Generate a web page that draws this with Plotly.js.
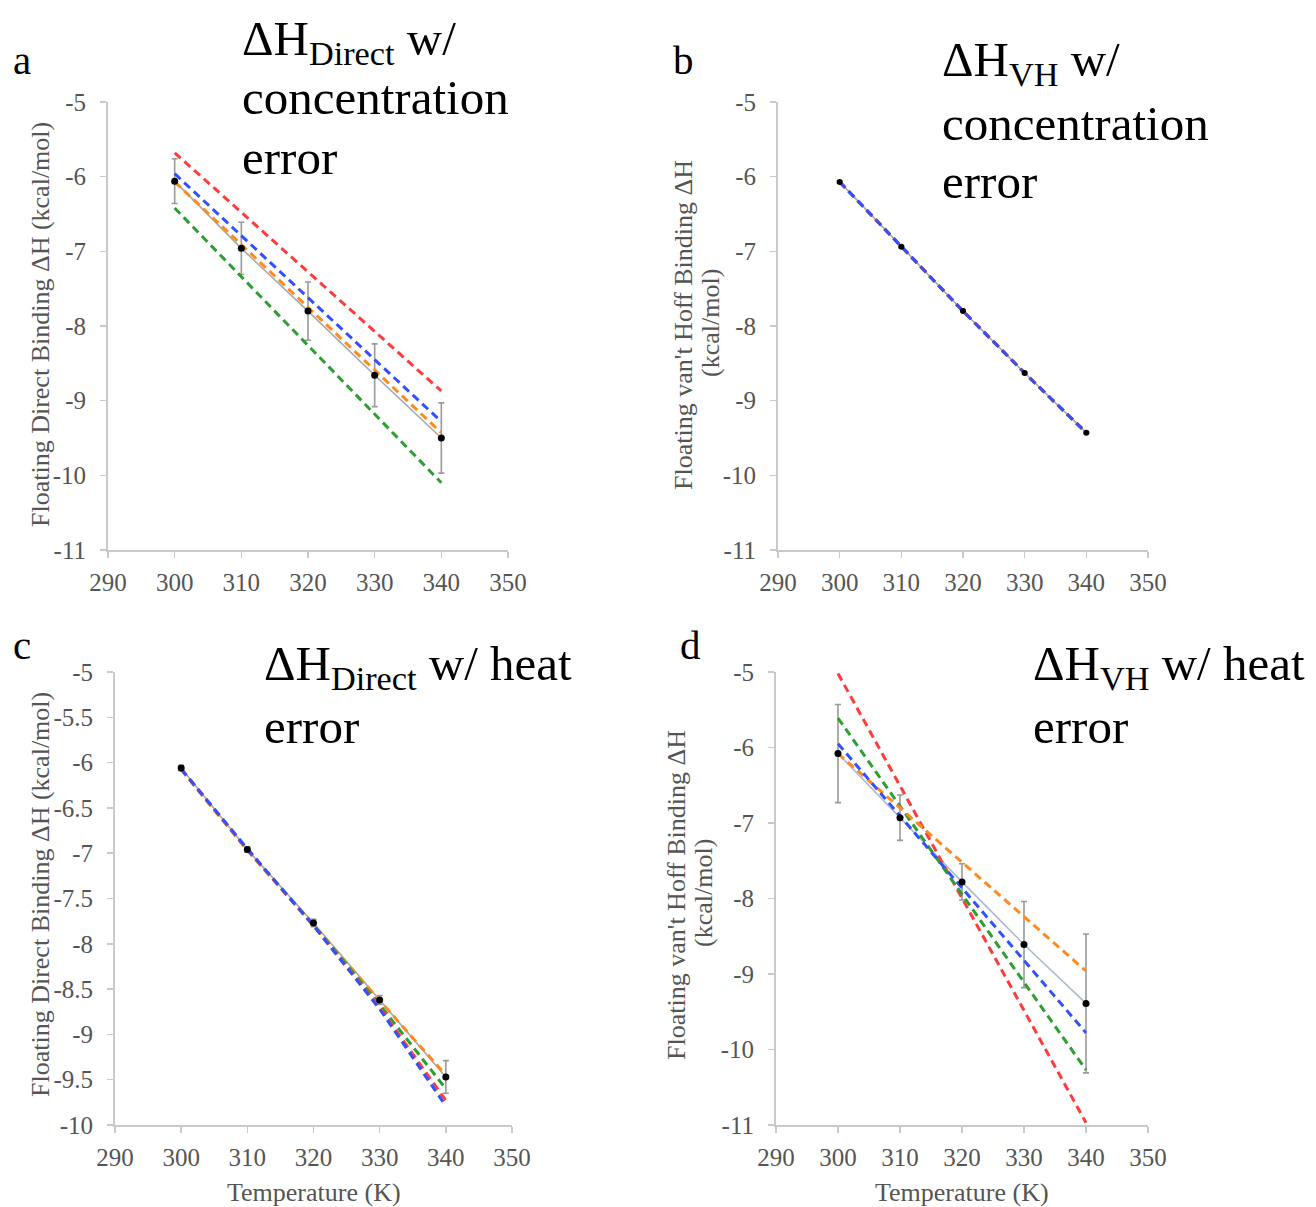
<!DOCTYPE html>
<html>
<head>
<meta charset="utf-8">
<script src="https://cdn.plot.ly/plotly-3.0.1.min.js"></script>
<style>html,body{margin:0;padding:0;background:#fff;}#chart{width:1316px;height:1207px;}</style>
</head>
<body>
<div id="chart"></div>
<script>
// ---------- data ----------
const temps = [300, 310, 320, 330, 340];
const xTickVals = [290, 300, 310, 320, 330, 340, 350];
const xTickText = ['290', '300', '310', '320', '330', '340', '350'];
const yTickVals11 = [-11, -10, -9, -8, -7, -6, -5];
const yTickText11 = ['-11', '-10', '-9', '-8', '-7', '-6', '-5'];
const yTickValsC = [-10, -9.5, -9, -8.5, -8, -7.5, -7, -6.5, -6, -5.5, -5];
const yTickTextC = ['-10', '-9.5', '-9', '-8.5', '-8', '-7.5', '-7', '-6.5', '-6', '-5.5', '-5'];

// panel a : direct dH with concentration error
const aData = [-6.06, -6.96, -7.80, -8.66, -9.50];
const aErr = [0.30, 0.35, 0.39, 0.42, 0.47];
const aRed = [-5.68, -6.48, -7.28, -8.07, -8.87];
const aBlue = [-5.96, -6.79, -7.62, -8.45, -9.28];
const aOrange = [-6.07, -6.91, -7.75, -8.59, -9.43];
const aGreen = [-6.42, -7.34, -8.26, -9.18, -10.10];

// panel b : van't Hoff dH with concentration error
const bData = [-6.07, -6.94, -7.80, -8.63, -9.43];
const bErr = [0.01, 0.01, 0.01, 0.01, 0.01];
const bRed = [-6.07, -6.94, -7.80, -8.63, -9.43];
const bBlue = [-6.07, -6.94, -7.80, -8.63, -9.43];
const bOrange = [-6.07, -6.94, -7.80, -8.63, -9.43];
const bGreen = [-6.07, -6.94, -7.80, -8.63, -9.43];

// panel c : direct dH with heat error
const cData = [-6.06, -6.96, -7.77, -8.62, -9.47];
const cErr = [0.03, 0.03, 0.04, 0.05, 0.18];
const cRed = [-6.07, -6.96, -7.80, -8.70, -9.73];
const cBlue = [-6.07, -6.95, -7.80, -8.72, -9.79];
const cOrange = [-6.08, -6.97, -7.80, -8.62, -9.45];
const cGreen = [-6.07, -6.96, -7.79, -8.67, -9.60];

// panel d : van't Hoff dH with heat error
const dData = [-6.08, -6.93, -7.78, -8.61, -9.39];
const dErr = [0.65, 0.30, 0.24, 0.57, 0.92];
const dRed = [-5.02, -6.51, -8.00, -9.48, -10.97];
const dBlue = [-5.95, -6.90, -7.86, -8.82, -9.78];
const dOrange = [-6.08, -6.80, -7.52, -8.24, -8.96];
const dGreen = [-5.61, -6.78, -7.94, -9.11, -10.27];

// ---------- styling ----------
const W = 1316, H = 1207;
const px = v => v / W;
const py = v => 1 - v / H;
const SERIF = 'Liberation Serif';
const RED = '#ff3b3b', BLUE = '#3350ff', ORANGE = '#ff8a1e', GREEN = '#2e9e33';
const DASH = '8px,5px';

function dashed(y, color, xa, ya) {
  return {x: temps, y: y, xaxis: xa, yaxis: ya, mode: 'lines', type: 'scatter',
    line: {color: color, width: 3, dash: DASH}, hoverinfo: 'skip'};
}
function dataLine(y, err, lineColor, xa, ya) {
  return {x: temps, y: y, xaxis: xa, yaxis: ya, mode: 'lines', type: 'scatter',
    line: {color: lineColor, width: 1.6},
    error_y: {type: 'data', array: err, visible: true, color: '#9a9a9a', thickness: 1.6, width: 3},
    hoverinfo: 'skip'};
}
function markers(y, size, xa, ya) {
  return {x: temps, y: y, xaxis: xa, yaxis: ya, mode: 'markers', type: 'scatter',
    marker: {color: '#000', size: size}, hoverinfo: 'skip', cliponaxis: false};
}

const traces = [
  dataLine(aData, aErr, '#a8a8a8', 'x', 'y'),
  dashed(aGreen, GREEN, 'x', 'y'), dashed(aRed, RED, 'x', 'y'),
  dashed(aOrange, ORANGE, 'x', 'y'), dashed(aBlue, BLUE, 'x', 'y'),
  markers(aData, 7, 'x', 'y'),

  dataLine(bData, bErr, '#a8a8a8', 'x2', 'y2'),
  dashed(bOrange, ORANGE, 'x2', 'y2'), dashed(bGreen, GREEN, 'x2', 'y2'),
  dashed(bRed, RED, 'x2', 'y2'), dashed(bBlue, BLUE, 'x2', 'y2'),
  markers(bData, 6, 'x2', 'y2'),

  dataLine(cData, cErr, '#a8a8a8', 'x3', 'y3'),
  dashed(cOrange, ORANGE, 'x3', 'y3'), dashed(cGreen, GREEN, 'x3', 'y3'),
  dashed(cRed, RED, 'x3', 'y3'), dashed(cBlue, BLUE, 'x3', 'y3'),
  markers(cData, 7, 'x3', 'y3'),

  dataLine(dData, dErr, '#a9bccf', 'x4', 'y4'),
  dashed(dRed, RED, 'x4', 'y4'), dashed(dGreen, GREEN, 'x4', 'y4'),
  dashed(dOrange, ORANGE, 'x4', 'y4'), dashed(dBlue, BLUE, 'x4', 'y4'),
  markers(dData, 7, 'x4', 'y4')
];

function xAxis(d0, d1, anchor) {
  return {domain: [px(d0), px(d1)], range: [290, 350], anchor: anchor,
    tickvals: xTickVals, ticktext: xTickText,
    showline: true, linecolor: '#c9c9c9', linewidth: 2, ticks: 'outside', ticklen: 6,
    tickcolor: '#c9c9c9', tickwidth: 1.5, showgrid: false, zeroline: false, fixedrange: true,
    ticklabelstandoff: 3,
    tickfont: {family: SERIF, size: 25, color: '#555'}};
}
function yAxis(d0, d1, range, vals, text, anchor) {
  return {domain: [py(d1), py(d0)], range: range, anchor: anchor,
    tickvals: vals, ticktext: text,
    showline: true, linecolor: '#c9c9c9', linewidth: 2, ticks: 'outside', ticklen: 6,
    tickcolor: '#c9c9c9', tickwidth: 1.5, showgrid: false, zeroline: false, fixedrange: true,
    ticklabelstandoff: 9,
    tickfont: {family: SERIF, size: 25, color: '#555'}};
}

function txt(text, x, y, size, opts) {
  return Object.assign({text: text, x: px(x), y: py(y), xref: 'paper', yref: 'paper',
    showarrow: false, xanchor: 'left', yanchor: 'middle',
    font: {family: SERIF, size: size, color: '#000'}}, opts || {});
}
function axTitle(text, x, y, angle) {
  return txt(text, x, y, 26, {xanchor: 'center', textangle: angle,
    font: {family: SERIF, size: 26, color: '#555'}});
}
const TS = 49;
const annotations = [
  // panel letters
  txt('a', 11, 60, 41), txt('b', 671, 60, 41), txt('c', 11, 645, 41), txt('d', 678, 645, 41),
  // titles
  txt('ΔH<sub>Direct</sub> w/', 240, 41, TS),
  txt('concentration', 240, 97, TS),
  txt('error', 240, 157, TS),
  txt('ΔH<sub>VH</sub> w/', 940, 63, TS),
  txt('concentration', 940, 123, TS),
  txt('error', 940, 181, TS),
  txt('ΔH<sub>Direct</sub> w/ heat', 262, 666, TS),
  txt('error', 262, 726, TS),
  txt('ΔH<sub>VH</sub> w/ heat', 1031, 666, TS),
  txt('error', 1031, 726, TS),
  // axis titles
  axTitle('Floating Direct Binding ΔH (kcal/mol)', 40, 325, -90),
  axTitle("Floating van't Hoff Binding ΔH", 683, 325, -90),
  axTitle('(kcal/mol)', 710, 323, -90),
  axTitle('Floating Direct Binding ΔH (kcal/mol)', 40, 895, -90),
  axTitle("Floating van't Hoff Binding ΔH", 676, 895, -90),
  axTitle('(kcal/mol)', 703, 893, -90),
  axTitle('Temperature (K)', 314, 1192, 0),
  axTitle('Temperature (K)', 962, 1192, 0)
];

const layout = {
  width: W, height: H, margin: {l: 0, r: 0, t: 0, b: 0},
  paper_bgcolor: '#fff', plot_bgcolor: '#fff', showlegend: false,
  xaxis: xAxis(108, 508, 'y'),
  yaxis: yAxis(102, 550, [-11, -5], yTickVals11, yTickText11, 'x'),
  xaxis2: xAxis(778, 1148, 'y2'),
  yaxis2: yAxis(102, 550, [-11, -5], yTickVals11, yTickText11, 'x2'),
  xaxis3: xAxis(115, 512, 'y3'),
  yaxis3: yAxis(672, 1125, [-10, -5], yTickValsC, yTickTextC, 'x3'),
  xaxis4: xAxis(776, 1148, 'y4'),
  yaxis4: yAxis(672, 1125, [-11, -5], yTickVals11, yTickText11, 'x4'),
  annotations: annotations
};

Plotly.newPlot('chart', traces, layout, {displayModeBar: false, staticPlot: true});
</script>
</body>
</html>
